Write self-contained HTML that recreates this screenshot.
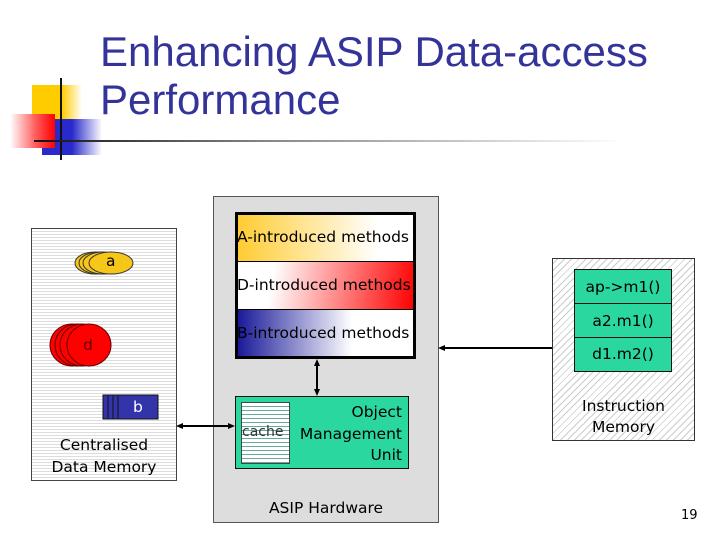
<!DOCTYPE html>
<html><head><style>
body{margin:0;width:720px;height:540px;background:#fff;position:relative;overflow:hidden;font-family:"DejaVu Sans","Liberation Sans",sans-serif}
div{position:absolute;box-sizing:border-box}
.t{font-size:15.5px;color:#000;white-space:nowrap}
</style></head><body>
<div style="left:32px;top:85px;width:50px;height:34px;background:linear-gradient(90deg,#ffcc00 60%,#fff0)"></div>
<div style="left:42px;top:119px;width:60px;height:36px;background:linear-gradient(90deg,#2a2acc 50%,#fff0)"></div>
<div style="left:10px;top:114px;width:45px;height:34px;background:linear-gradient(90deg,#fff8 0%,#f55 60%,#f00)"></div>
<div style="left:60px;top:78px;width:2px;height:82px;background:#111"></div>
<div style="left:34px;top:140px;width:590px;height:2px;background:linear-gradient(90deg,#111,#888 40%,#fff)"></div>
<div style="left:100px;top:28px;font-family:'Liberation Sans',sans-serif;font-size:42px;line-height:48px;color:#333399">Enhancing ASIP Data-access<br>Performance</div>

<div style="left:31px;top:228px;width:146px;height:253px;border:1px solid #444;background:repeating-linear-gradient(180deg,#fff 0 2px,#ddd 2px 3px)"></div>
<svg style="position:absolute;left:0;top:0" width="720" height="540">
<g fill="#f6c619" stroke="#333"><ellipse cx="95" cy="263" rx="20" ry="11"/><ellipse cx="99" cy="263" rx="20" ry="11"/><ellipse cx="103" cy="263" rx="20" ry="11"/><ellipse cx="111" cy="263" rx="22" ry="11"/></g>
<g fill="#f00" stroke="#600"><ellipse cx="72" cy="345" rx="22" ry="21"/><ellipse cx="77" cy="345" rx="22" ry="21"/><ellipse cx="82" cy="345" rx="22" ry="21"/><ellipse cx="89" cy="345" rx="22" ry="21"/></g>
<rect x="103" y="395" width="55" height="24" fill="#3333aa" stroke="#111"/>
<g stroke="#111"><line x1="108" y1="395" x2="108" y2="419"/><line x1="113" y1="395" x2="113" y2="419"/><line x1="118" y1="395" x2="118" y2="419"/></g>
</svg>
<div class="t" style="left:106px;top:252px;color:#000">a</div>
<div class="t" style="left:83px;top:336px;color:#600">d</div>
<div class="t" style="left:133px;top:398px;color:#fff">b</div>
<div class="t" style="left:31px;top:434px;width:146px;text-align:center;line-height:22px">Centralised<br>Data Memory</div>

<div style="left:213px;top:196px;width:226px;height:327px;background:#ddd;border:1px solid #555"></div>
<div style="left:235px;top:212px;width:181px;height:147px;border:3px solid #000;background:#fff"></div>
<div style="left:238px;top:215px;width:175px;height:47px;background:linear-gradient(90deg,#fc3,#fff 80%);border-bottom:1px solid #000"></div>
<div style="left:238px;top:262px;width:175px;height:48px;background:linear-gradient(100deg,#fff 20%,#f00);border-bottom:1px solid #000"></div>
<div style="left:238px;top:310px;width:175px;height:46px;background:linear-gradient(90deg,#1a1a99,#fff 65%)"></div>
<div class="t" style="left:237px;top:228px">A-introduced methods</div>
<div class="t" style="left:237px;top:276px">D-introduced methods</div>
<div class="t" style="left:237px;top:324px">B-introduced methods</div>
<div style="left:235px;top:396px;width:174px;height:73px;background:#2ad79f;border:1px solid #111"></div>
<div style="left:241px;top:402px;width:49px;height:62px;border:1px solid #444;background:repeating-linear-gradient(180deg,#fff 0 3px,#6a9 3px 4px)"></div>
<div style="left:242px;top:424px;font-size:14px;color:#333">cache</div>
<div class="t" style="left:290px;top:402px;width:112px;text-align:right;line-height:21.5px">Object<br>Management<br>Unit</div>
<div class="t" style="left:213px;top:499px;width:226px;text-align:center">ASIP Hardware</div>

<div style="left:552px;top:258px;width:143px;height:183px;border:1px solid #333;background:repeating-linear-gradient(-45deg,#fff 0 4px,#ccc 4px 5px)"></div>
<div style="left:574px;top:269px;width:98px;height:103px;background:#2ad79f;border:1px solid #111"></div>
<div style="left:574px;top:303px;width:98px;height:1px;background:#111"></div>
<div style="left:574px;top:337px;width:98px;height:1px;background:#111"></div>
<div class="t" style="left:574px;top:278px;width:98px;text-align:center">ap-&gt;m1()</div>
<div class="t" style="left:574px;top:312px;width:98px;text-align:center">a2.m1()</div>
<div class="t" style="left:574px;top:345px;width:98px;text-align:center">d1.m2()</div>
<div class="t" style="left:552px;top:396px;width:143px;text-align:center;line-height:21px">Instruction<br>Memory</div>

<svg style="position:absolute;left:0;top:0" width="720" height="540">
<g stroke="#000" stroke-width="2" fill="#000">
<line x1="181" y1="426" x2="230" y2="426"/><path d="M176 426l7-3v6z" stroke="none"/><path d="M235 426l-7-3v6z" stroke="none"/>
<line x1="317" y1="364" x2="317" y2="390"/><path d="M317 359l-3 7h6z" stroke="none"/><path d="M317 396l-3-7h6z" stroke="none"/>
<line x1="443" y1="348" x2="552" y2="348"/><path d="M438 348l7-3v6z" stroke="none"/>
</g></svg>
<div style="left:681px;top:508px;font-size:13px">19</div>
</body></html>
